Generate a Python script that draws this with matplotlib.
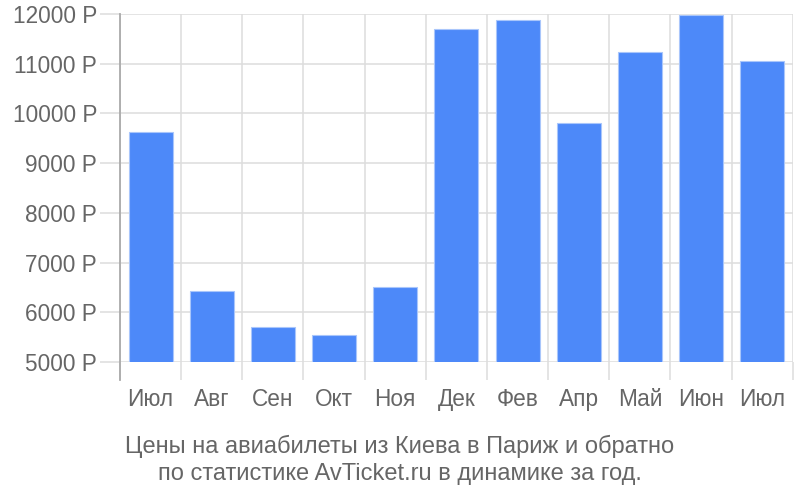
import numpy as np
import matplotlib
matplotlib.use("Agg")
import matplotlib.pyplot as plt

# MONTHS AND PRICES (RUB)
months = ["Июл", "Авг", "Сен", "Окт", "Ноя", "Дек", "Фев", "Апр", "Май", "Июн", "Июл"]
prices = [9630, 6430, 5700, 5540, 6510, 11700, 11880, 9810, 11240, 11980, 11060]
yticks = [5000, 6000, 7000, 8000, 9000, 10000, 11000, 12000]
caption = "Цены на авиабилеты из Киева в Париж и обратно\nпо статистике AvTicket.ru в динамике за год."

plt.rcParams['font.family'] = ['Liberation Sans', 'DejaVu Sans']
grey = "#666666"
grid_c = "#dddddd"

fig = plt.figure(figsize=(8, 5), dpi=100)
ax = fig.add_axes([0.15, 0.276, 0.841, 0.696])

x = np.arange(len(months))
ax.bar(x, prices, width=0.72, color="#4d89f9", edgecolor="#a9c6fb", linewidth=0.8, zorder=3)

ax.set_xlim(-0.5, len(months) - 0.5)
ax.set_ylim(5000, 12000)

ax.set_yticks(yticks)
ax.set_yticklabels([f"{v} Р" for v in yticks])
ax.set_xticks(x)
ax.set_xticklabels(months)
ax.set_xticks(np.arange(-0.5, len(months)), minor=True)

ax.tick_params(axis="y", which="major", length=14.4, width=1.1, color=grid_c,
               labelsize=16.3, labelcolor=grey, pad=2)
ax.tick_params(axis="x", which="major", length=0, labelsize=16.3, labelcolor=grey, pad=19)
ax.tick_params(axis="x", which="minor", length=13, width=1.1, color=grid_c)

ax.grid(axis="y", which="major", color=grid_c, linewidth=1.1, zorder=0)
ax.grid(axis="x", which="minor", color=grid_c, linewidth=1.1, zorder=0)

for s in ["top", "right", "bottom", "left"]:
    ax.spines[s].set_visible(False)
# LEFT AXIS LINE EXTENDS BELOW THE PLOT
ax.plot([-0.5, -0.5], [4640, 12000], color="#aaaaaa", linewidth=1.3, clip_on=False, zorder=4)

fig.text(0.5, 0.08, caption, ha="center", va="center", fontsize=17, color=grey, linespacing=1.33)

fig.savefig("out.png", dpi=100)
